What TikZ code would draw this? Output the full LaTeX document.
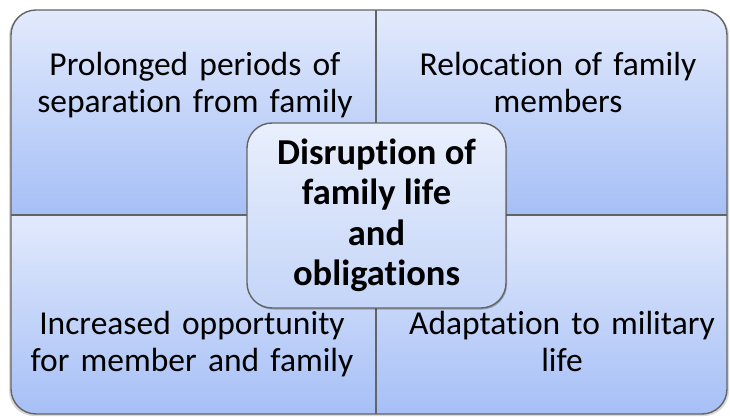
\documentclass[tikz,border=0pt]{standalone}
\usepackage{fontspec}
\setmainfont{Carlito}[Ligatures=NoCommon]
\usetikzlibrary{shadows}
\definecolor{qtop}{RGB}{226,234,252}
\definecolor{qbot}{RGB}{166,191,246}
\definecolor{ctop}{RGB}{233,239,252}
\definecolor{cbot}{RGB}{196,213,248}
\definecolor{edge}{RGB}{100,100,100}
\begin{document}
\begin{tikzpicture}[x=1pt,y=-1pt,
  quadtext/.style={anchor=base, text width=340pt, align=center, inner sep=0pt,
    font=\fontsize{33.5}{37}\selectfont},
  quadfill/.style={top color=qtop, bottom color=qbot},
  centerbox/.style={draw=edge, line width=1.4pt, rounded corners=25pt,
    top color=ctop, bottom color=cbot, align=center, inner sep=0pt,
    minimum width=259pt, minimum height=185pt,
    font=\fontsize{36.5}{40.5}\selectfont\bfseries,
    general shadow={shadow xshift=1pt, shadow yshift=-1.5pt, fill=black, opacity=0.25}},
  frame/.style={draw=edge, line width=1.4pt}]
\useasboundingbox (0,0) rectangle (730,419);
% shadow of outer frame
\fill[black, opacity=0.15, rounded corners=25pt] (9,11) rectangle (729,416);
% quadrants
\begin{scope}
  \clip[rounded corners=25pt] (11,10) rectangle (727,414);
  \shade[quadfill] (11,10) rectangle (376,215);
  \shade[quadfill] (376,10) rectangle (727,215);
  \shade[quadfill] (11,215) rectangle (376,414);
  \shade[quadfill] (376,215) rectangle (727,414);
\end{scope}
\draw[frame, rounded corners=25pt] (11,10) rectangle (727,414);
\draw[frame] (376,10) -- (376,414);
\draw[frame] (11,215) -- (727,215);
% quadrant texts
\node[quadtext] (tl) at (195,76) {Prolonged periods of\\separation from family};
\node[quadtext] (tr) at (558,76) {Relocation of family\\members};
\node[quadtext] (bl) at (192,334) {Increased opportunity\\for member and family};
\node[quadtext] (br) at (562,334) {Adaptation to military\\life};
% center
\node[centerbox] (c) at (376.5,215.5) {Disruption of\\family life\\and\\obligations};
\end{tikzpicture}
\end{document}
